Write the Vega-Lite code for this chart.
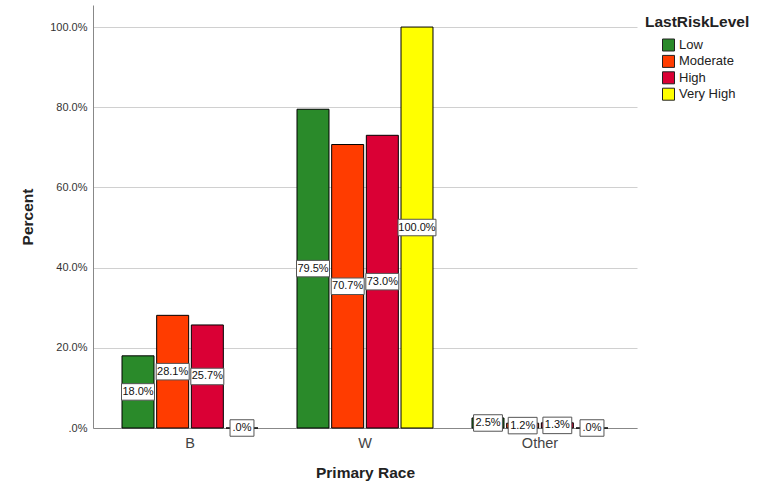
{
  "$schema": "https://vega.github.io/schema/vega-lite/v6.json",
  "width": 544,
  "height": 423,
  "autosize": {"type": "none"},
  "padding": {"left": 93, "top": 5, "right": 145, "bottom": 60},
  "background": "white",
  "config": {
    "view": {"stroke": null},
    "font": "Liberation Sans",
    "legend": {
      "orient": "none",
      "legendX": 552,
      "legendY": 10,
      "titleFontSize": 15.5,
      "titleFontWeight": "bold",
      "titleColor": "#222222",
      "labelFontSize": 13,
      "labelColor": "#222222",
      "symbolType": "square",
      "symbolSize": 144,
      "symbolStrokeColor": "#222222",
      "symbolStrokeWidth": 1,
      "symbolOffset": 17,
      "rowPadding": -0.6,
      "titlePadding": 8,
      "labelOffset": 4
    }
  },
  "data": {
    "values": [
      {"race": "B", "level": "Low", "pct": 18.0},
      {"race": "B", "level": "Moderate", "pct": 28.1},
      {"race": "B", "level": "High", "pct": 25.7},
      {"race": "B", "level": "Very High", "pct": 0},
      {"race": "W", "level": "Low", "pct": 79.5},
      {"race": "W", "level": "Moderate", "pct": 70.7},
      {"race": "W", "level": "High", "pct": 73.0},
      {"race": "W", "level": "Very High", "pct": 100.0},
      {"race": "Other", "level": "Low", "pct": 2.5},
      {"race": "Other", "level": "Moderate", "pct": 1.2},
      {"race": "Other", "level": "High", "pct": 1.3},
      {"race": "Other", "level": "Very High", "pct": 0}
    ]
  },
  "transform": [
    {"calculate": "datum.pct == 0 ? '.0%' : format(datum.pct, '.1f') + '%'", "as": "label"},
    {"calculate": "datum.pct / 2", "as": "mid"},
    {"calculate": "length(datum.label)", "as": "len"}
  ],
  "encoding": {
    "x": {
      "field": "race",
      "type": "nominal",
      "sort": ["B", "W", "Other"],
      "title": "Primary Race",
      "scale": {"paddingInner": 0, "paddingOuter": 0.0543},
      "axis": {
        "domainColor": "#888888",
        "ticks": false,
        "labelAngle": 0,
        "labelFontSize": 14.5,
        "labelColor": "#444444",
        "labelPadding": 8,
        "titleFontSize": 15.5,
        "titleFontWeight": "bold",
        "titleColor": "#222222",
        "titlePadding": 16,
        "grid": false
      }
    },
    "xOffset": {
      "field": "level",
      "type": "nominal",
      "sort": ["Low", "Moderate", "High", "Very High"],
      "scale": {"paddingInner": 0.077, "paddingOuter": 0.5625}
    }
  },
  "layer": [
    {
      "mark": {"type": "bar", "stroke": "black", "strokeWidth": 1},
      "encoding": {
        "y": {
          "field": "pct",
          "type": "quantitative",
          "title": "Percent",
          "scale": {"domain": [0, 105.5], "nice": false},
          "axis": {
            "values": [0, 20, 40, 60, 80, 100],
            "labelExpr": "datum.value == 0 ? '.0%' : format(datum.value, '.1f') + '%'",
            "grid": true,
            "gridColor": "#d0d0d0",
            "domainColor": "#888888",
            "ticks": false,
            "labelFontSize": 11,
            "labelColor": "#333333",
            "labelPadding": 6,
            "titleFontSize": 15.5,
            "titleFontWeight": "bold",
            "titleColor": "#222222",
            "titlePadding": 14
          }
        },
        "color": {
          "field": "level",
          "type": "nominal",
          "title": "LastRiskLevel",
          "scale": {
            "domain": ["Low", "Moderate", "High", "Very High"],
            "range": ["#2A8A2A", "#FF3C00", "#DA0035", "#FFFF00"]
          }
        }
      }
    },
    {
      "mark": {"type": "point", "filled": true, "fill": "white", "stroke": "#555555", "strokeWidth": 1, "opacity": 1, "size": 272},
      "encoding": {
        "y": {"field": "mid", "type": "quantitative", "title": "Percent"},
        "shape": {
          "field": "len",
          "type": "nominal",
          "scale": {
            "domain": [3, 4, 5, 6],
            "range": ["M-1.45,-1H1.45V1H-1.45Z", "M-1.75,-1H1.75V1H-1.75Z", "M-2.0,-1H2.0V1H-2.0Z", "M-2.3,-1H2.3V1H-2.3Z"]
          },
          "legend": null
        }
      }
    },
    {
      "mark": {"type": "text", "fontSize": 11, "color": "#111111"},
      "encoding": {
        "y": {"field": "mid", "type": "quantitative", "title": "Percent"},
        "text": {"field": "label", "type": "nominal"}
      }
    }
  ]
}
